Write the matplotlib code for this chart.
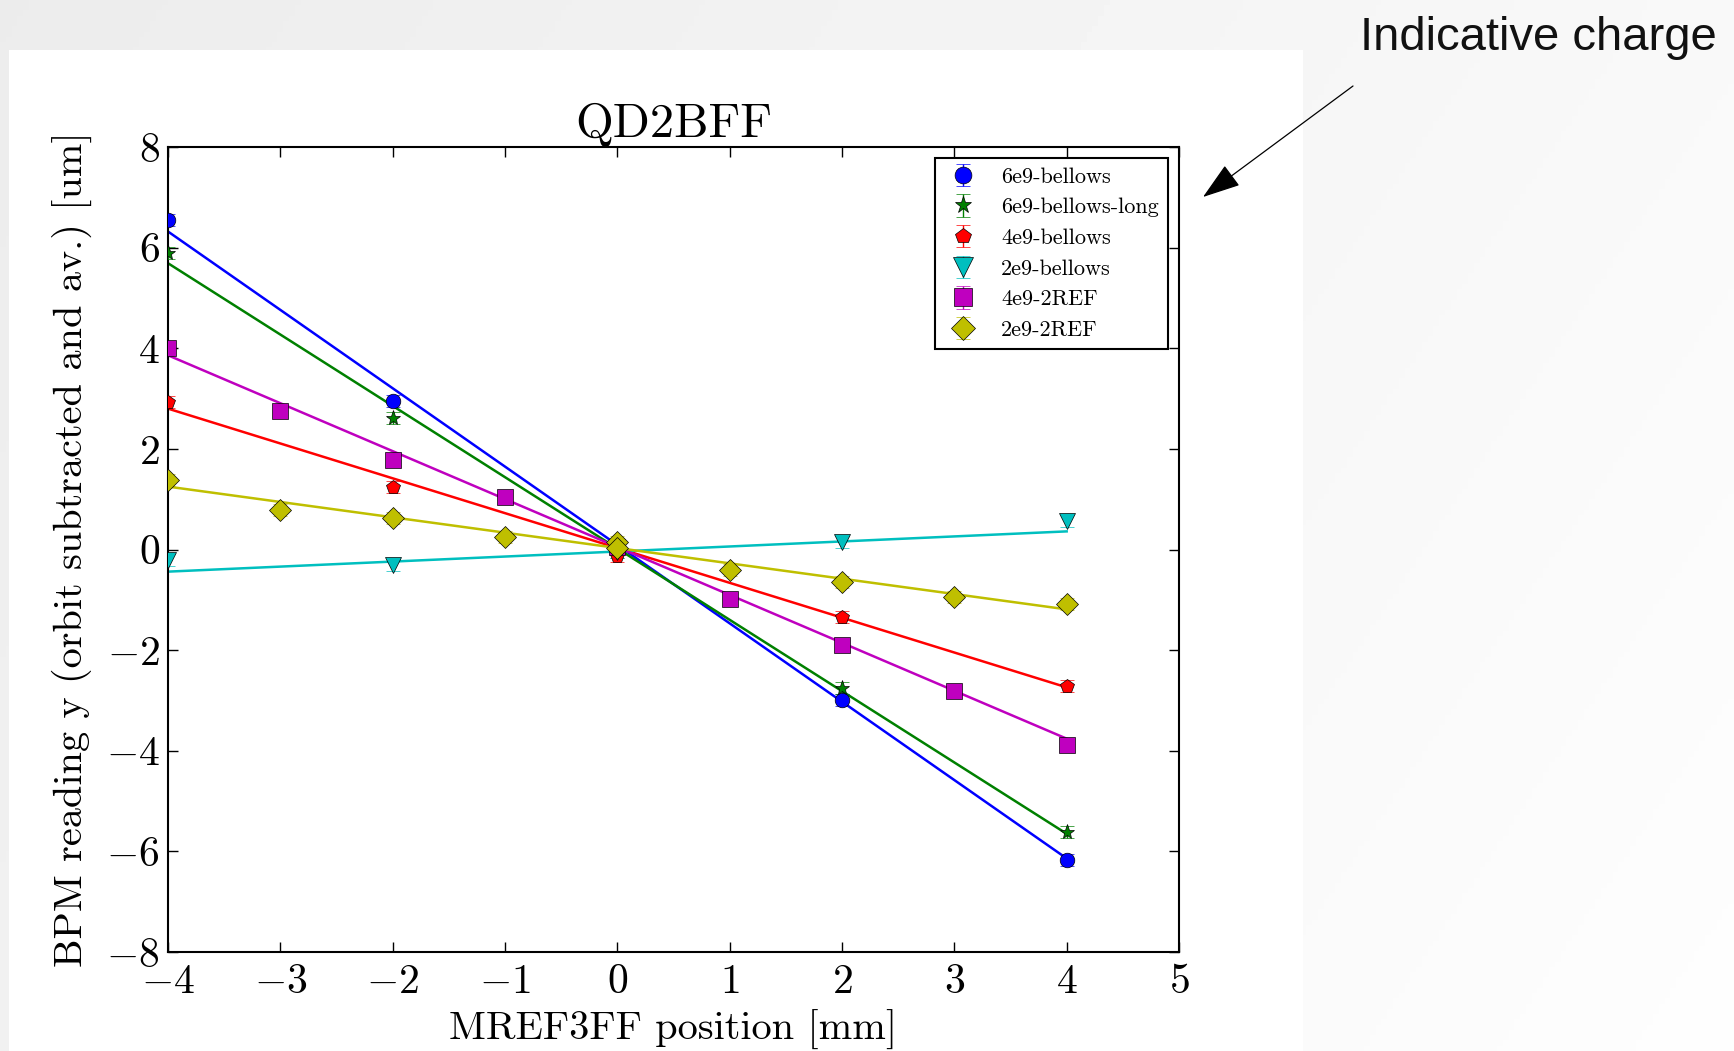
import numpy as np
import matplotlib
matplotlib.use("Agg")
import matplotlib.pyplot as plt
from matplotlib.patches import Rectangle, FancyArrowPatch

plt.rcParams['font.family'] = 'serif'
plt.rcParams['font.serif'] = ['cmr10']
plt.rcParams['mathtext.fontset'] = 'cm'
plt.rcParams['axes.formatter.use_mathtext'] = True
plt.rcParams['axes.unicode_minus'] = True

# Data: BPM reading vs mover position, per charge / setup
labels = ["6e9-bellows", "6e9-bellows-long", "4e9-bellows",
          "2e9-bellows", "4e9-2REF", "2e9-2REF"]

x_bellows = [-4, -2, 0, 2, 4]
x_2ref = [-4, -3, -2, -1, 0, 1, 2, 3, 4]
x_2ref_y = [-4, -3, -2, -1, 0, 0, 1, 2, 3, 4]

y_6e9_bellows = [6.54, 2.95, 0.10, -2.99, -6.18]
y_6e9_long = [5.89, 2.62, -0.05, -2.75, -5.61]
y_4e9_bellows = [2.93, 1.25, -0.12, -1.34, -2.72]
y_2e9_bellows = [-0.21, -0.30, -0.05, 0.14, 0.56]
y_4e9_2ref = [4.00, 2.75, 1.78, 1.05, 0.05, -0.99, -1.89, -2.81, -3.88]
y_2e9_2ref = [1.38, 0.79, 0.62, 0.24, 0.15, 0.02, -0.40, -0.64, -0.95, -1.09]

y_err = 0.12

# linear fits (slope, offset)
fit_slope = [-1.5575, -1.4175, -0.6925, 0.100, -0.9525, -0.305]
fit_offset = [0.09, 0.02, 0.03, -0.04, 0.05, 0.03]

xs = [x_bellows, x_bellows, x_bellows, x_bellows, x_2ref, x_2ref_y]
ys = [y_6e9_bellows, y_6e9_long, y_4e9_bellows, y_2e9_bellows, y_4e9_2ref, y_2e9_2ref]
colors = ['b', 'g', 'r', 'c', 'm', 'y']
markers = ['o', '*', 'p', 'v', 's', 'D']
msizes = [10.5, 11, 10, 12, 11, 11]

W, H = 1734, 1051
fig = plt.figure(figsize=(W / 100, H / 100), dpi=100)

# slide background: soft grey gradient plus white picture area
bg = fig.add_axes([0, 0, 1, 1])
gx = np.linspace(0, 1, 300)
gy = np.linspace(0, 1, 200)
GX, GY = np.meshgrid(gx, gy)
grad = 0.925 + 0.05 * GX + 0.02 * GY
bg.imshow(grad, cmap='gray', vmin=0, vmax=1, aspect='auto',
          extent=[0, 1, 0, 1], origin='upper')
bg.add_patch(Rectangle((9 / W, 0), (1303 - 9) / W, (H - 50) / H,
                       facecolor='white', edgecolor='none'))
bg.set_xlim(0, 1)
bg.set_ylim(0, 1)
bg.axis('off')

ax = fig.add_axes([168 / W, 99 / H, (1179 - 168) / W, (952 - 147) / H])

xfit = np.array([-4, 4])
for i in range(len(labels)):
    ax.plot(xfit, fit_slope[i] * xfit + fit_offset[i], color=colors[i],
            lw=1.8, zorder=2)
for i in range(len(labels)):
    ax.errorbar(xs[i], ys[i], yerr=y_err, fmt=markers[i], color=colors[i],
                ms=msizes[i], mec='k', mew=0.5, elinewidth=1, capsize=5,
                label=labels[i], zorder=3)

ax.set_xlim(-4, 5)
ax.set_ylim(-8, 8)
ax.set_xticks(range(-4, 6))
ax.set_yticks(range(-8, 9, 2))
ax.tick_params(direction='in', top=True, right=True, length=7, width=1,
               labelsize=30)
ax.tick_params(axis='y', pad=6)
ax.tick_params(axis='x', pad=8)
for s in ax.spines.values():
    s.set_linewidth(1.5)

ax.set_title("QD2BFF", fontsize=35, pad=7)
ax.set_xlabel("MREF3FF position [mm]", fontsize=29, labelpad=7)
ax.set_ylabel("BPM reading y (orbit subtracted and av.) [um]", fontsize=29,
              labelpad=10)

leg = ax.legend(loc='upper right', fontsize=16, numpoints=1,
                fancybox=False, framealpha=1, edgecolor='k',
                labelspacing=0.5, markerscale=1.15, borderpad=0.4,
                handlelength=1.8)
leg.get_frame().set_linewidth(1.5)

# annotation on the slide
fig.text(1360 / W, 1 - 49.5 / H, "Indicative charge", fontsize=34,
         family='Liberation Sans', color='#111111', va='baseline', ha='left')
arrow = FancyArrowPatch((1353 / W, 1 - 86 / H), (1203 / W, 1 - 197 / H),
                        transform=fig.transFigure,
                        arrowstyle='-|>,head_length=2.4,head_width=0.8',
                        mutation_scale=10, color='black', lw=0.9,
                        shrinkA=0, shrinkB=0)
fig.add_artist(arrow)

fig.savefig("out.png", dpi=100)
